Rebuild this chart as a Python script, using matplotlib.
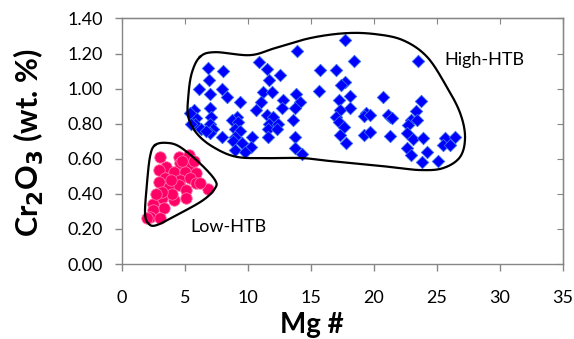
import numpy as np
import matplotlib.pyplot as plt

plt.rcParams['font.family'] = ['Lato', 'DejaVu Sans']

# Low-HTB samples (Mg#, Cr2O3 wt.%)
low_mg = [3.0, 4.5, 5.3, 3.5, 4.6, 5.4, 2.9, 4.1, 5.0, 5.9, 3.4, 4.6, 5.4, 2.9,
          5.9, 3.7, 4.5, 5.1, 6.8, 3.15, 4.1, 5.1, 2.5, 3.3, 2.5, 2.2, 3.0, 2.0,
          3.9, 6.2, 5.7, 4.0, 3.2, 2.7, 4.8]
low_cr = [0.61, 0.61, 0.62, 0.555, 0.575, 0.555, 0.535, 0.525, 0.525, 0.52,
          0.49, 0.48, 0.49, 0.47, 0.46, 0.44, 0.45, 0.42, 0.43, 0.375, 0.365,
          0.375, 0.345, 0.32, 0.31, 0.27, 0.26, 0.26, 0.48, 0.46, 0.59, 0.40,
          0.41, 0.40, 0.59]

# High-HTB samples
high_mg = [17.7, 13.9, 18.4, 10.9, 6.8, 8.0, 11.5, 12.5, 15.7, 17.0, 6.9, 11.7,
           17.7, 6.1, 7.9, 8.3, 17.4, 15.6, 7.0, 11.2, 11.9, 18.1, 13.8, 9.4,
           20.7, 12.8, 14.1, 11.0, 17.2, 5.7, 10.6, 7.0, 12.7, 13.7, 18.1, 17.3,
           19.4, 5.9, 7.1, 9.1, 11.5, 12.0, 17.0, 19.2, 21.3, 5.8, 7.0, 8.7, 9.2,
           11.7, 12.4, 13.6, 17.2, 17.6, 6.3, 7.2, 9.0, 9.4, 11.6, 12.3, 7.0, 7.9,
           9.0, 10.3, 11.6, 13.7, 17.3, 19.2, 8.8, 9.5, 10.2, 17.8, 9.0, 9.8,
           13.7, 14.3, 6.7, 23.5, 23.7, 23.3, 19.7, 21.1, 21.4, 22.9, 23.4, 22.7,
           19.7, 21.3, 22.6, 23.1, 23.9, 25.6, 26.4, 25.5, 26.0, 22.6, 22.9, 24.2,
           23.8, 25.1, 5.4, 5.5]
high_cr = [1.276, 1.215, 1.16, 1.15, 1.12, 1.10, 1.11, 1.08, 1.105, 1.105, 1.05,
           1.05, 1.04, 1.00, 1.00, 0.955, 1.02, 0.985, 0.97, 0.98, 0.98, 0.96,
           0.97, 0.925, 0.95, 0.935, 0.925, 0.925, 0.935, 0.88, 0.88, 0.887,
           0.887, 0.887, 0.887, 0.88, 0.86, 0.83, 0.84, 0.84, 0.85, 0.84, 0.84,
           0.845, 0.84, 0.80, 0.80, 0.82, 0.81, 0.80, 0.80, 0.82, 0.81, 0.78,
           0.77, 0.77, 0.77, 0.76, 0.77, 0.77, 0.745, 0.725, 0.725, 0.725, 0.725,
           0.725, 0.735, 0.735, 0.70, 0.69, 0.67, 0.69, 0.65, 0.64, 0.66, 0.63,
           0.76, 1.16, 0.93, 0.875, 0.85, 0.85, 0.83, 0.82, 0.82, 0.79, 0.755,
           0.73, 0.745, 0.715, 0.72, 0.72, 0.725, 0.68, 0.68, 0.66, 0.62, 0.64,
           0.58, 0.59, 0.86, 0.80]

# hand-drawn field outlines (control points)
high_x = [6.19, 7.38, 10.16, 12.14, 14.92, 17.70, 20.08, 22.30, 24.21, 25.77,
          26.83, 27.22, 26.83, 25.48, 23.65, 21.27, 17.04, 14.37, 11.75, 9.10,
          7.22, 5.93, 5.26, 5.26, 5.53]
high_y = [1.181, 1.208, 1.191, 1.231, 1.288, 1.316, 1.311, 1.276, 1.181, 1.010,
          0.861, 0.725, 0.611, 0.547, 0.536, 0.554, 0.583, 0.604, 0.604, 0.611,
          0.668, 0.745, 0.839, 0.953, 1.087]
low_x = [2.62, 3.55, 4.60, 6.19, 7.38, 7.38, 6.45, 4.60, 2.75, 2.09, 1.83, 1.96, 2.22]
low_y = [0.678, 0.691, 0.668, 0.574, 0.479, 0.431, 0.365, 0.289, 0.222, 0.232,
         0.289, 0.440, 0.611]


def closed_curve(xs, ys, n=30):
    # periodic Catmull-Rom through the control points
    p = np.column_stack([xs, ys])
    m = len(p)
    t = np.linspace(0, 1, n, endpoint=False)[:, None]
    out = []
    for i in range(m):
        p0, p1, p2, p3 = p[i - 1], p[i], p[(i + 1) % m], p[(i + 2) % m]
        out.append(0.5 * (2 * p1 + (-p0 + p2) * t
                          + (2 * p0 - 5 * p1 + 4 * p2 - p3) * t ** 2
                          + (-p0 + 3 * p1 - 3 * p2 + p3) * t ** 3))
    out = np.vstack(out)
    return np.vstack([out, out[:1]])


fig = plt.figure(figsize=(5.74, 3.39), dpi=100)
ax = fig.add_axes([0.2125, 0.221, 0.7685, 0.7245])

ax.scatter(high_mg, high_cr, marker='D', s=40, c='#0000FF',
           edgecolors='#3A6EF0', linewidths=0.6, zorder=3)
ax.scatter(low_mg, low_cr, marker='o', s=68, c='#FF0066',
           edgecolors='#FF6FA6', linewidths=0.6, zorder=3)

for xs, ys in [(high_x, high_y), (low_x, low_y)]:
    c = closed_curve(xs, ys)
    ax.plot(c[:, 0], c[:, 1], color='black', lw=1.6, zorder=4)

ax.text(25.6, 1.165, 'High-HTB', fontsize=13, va='center', ha='left')
ax.text(5.4, 0.21, 'Low-HTB', fontsize=13, va='center', ha='left')

ax.set_xlim(0, 35)
ax.set_ylim(0, 1.4)
ax.set_xticks(np.arange(0, 36, 5))
ax.set_yticks(np.arange(0, 1.41, 0.2))
ax.set_yticklabels(['%.2f' % v for v in np.arange(0, 1.41, 0.2)])

for s in ax.spines.values():
    s.set_color('#868686')
    s.set_linewidth(1.0)
ax.tick_params(axis='both', labelsize=13, colors='#868686', labelcolor='black',
               direction='out', length=5, width=1.0)
ax.tick_params(axis='x', pad=14)
ax.tick_params(axis='y', pad=9)
ax2 = ax.secondary_xaxis('top')
ax2.set_xticks(np.arange(0, 36, 5))
ax2.tick_params(direction='in', length=4, labeltop=False, colors='#868686')
ax3 = ax.secondary_yaxis('right')
ax3.set_yticks(np.arange(0, 1.41, 0.2))
ax3.tick_params(direction='in', length=4, labelright=False, colors='#868686')

fig.text(0.05, 0.578, r'Cr$_\mathbf{2}$O$_\mathbf{3}$ (wt. %)', rotation=90,
         fontsize=22, fontweight='bold', ha='center', va='center')
fig.text(0.544, 0.004, 'Mg #', fontsize=20, fontweight='bold',
         ha='center', va='bottom')

fig.savefig('out.png', dpi=100)
